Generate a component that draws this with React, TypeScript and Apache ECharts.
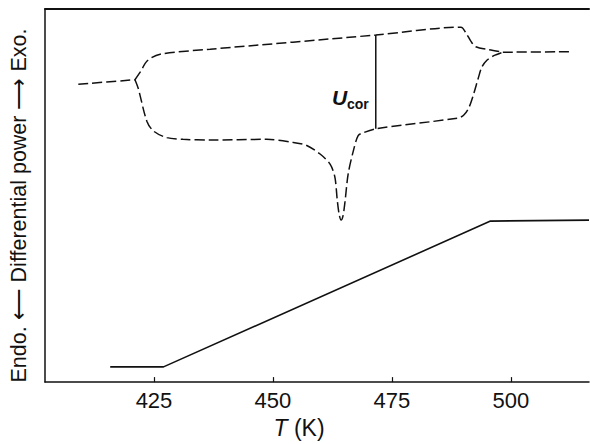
import React, { useEffect, useRef } from "react";
import * as echarts from "echarts";

// Temperature tick labels (K)
const TICK_VALUES = [425, 450, 475, 500];

// Dashed DSC trace (arbitrary power units), split at the two cusps
const LEFT_TAIL_T = [409.1, 421.0];
const LEFT_TAIL_P = [303.3, 308];

const UPPER_T = [421.0, 422.1, 423.6, 426.3, 436.8, 471.6, 489.5, 490.5, 491.6, 492.6, 495.4, 498.3];
const UPPER_P = [308, 315.7, 327.3, 334, 339, 353.5, 361.5, 356, 347, 341.5, 338.5, 336];

const LOWER_T = [
  421.0, 421.7, 423.5, 424.9, 427.7, 431.1, 436.8, 448.7, 454.3, 457.1, 459.9, 462.0, 463.0, 463.5,
  463.9, 464.3, 464.7, 465.1, 465.8, 466.9, 467.9, 469.0, 471.6, 488.9, 490.1, 491.2, 492.2, 493.1,
  493.9, 495.0, 496.4, 498.3,
];
const LOWER_P = [
  308, 299, 265.7, 255.7, 249, 247.3, 246.5, 247.3, 244, 241, 232.3, 222, 209, 185.7, 171, 165, 169,
  182.3, 212, 235.7, 251, 254, 258, 269, 272, 280, 294, 309, 321, 328, 332.5, 336,
];

const RIGHT_TAIL_T = [498.3, 512.4];
const RIGHT_TAIL_P = [336, 336.5];

// Solid temperature-program trace
const RAMP_T = [415.8, 427.0, 495.7, 516.4];
const RAMP_P = [15.5, 15.5, 164, 165];

// U_cor marker
const UCOR_T = [471.6, 471.6];
const UCOR_P = [258, 353.5];

const zip = (a: number[], b: number[]) => a.map((v, i) => [v, b[i]]);

const FONT = "'Liberation Sans', Arial, Helvetica, sans-serif";
const INK = "#111";

export default function App() {
  const ref = useRef<HTMLDivElement>(null);

  useEffect(() => {
    document.body.style.margin = "0";
    const chart = echarts.init(ref.current!, undefined, { renderer: "svg" });

    const dashed = (t: number[], p: number[]) => ({
      type: "line",
      data: zip(t, p),
      symbol: "none",
      smooth: 0.3,
      lineStyle: { color: INK, width: 1.5, type: [10, 4] },
      silent: true,
    });

    chart.setOption({
      animation: false,
      backgroundColor: "#fff",
      textStyle: { fontFamily: FONT },
      grid: { left: 45, right: 1, top: 9, bottom: 55 },
      xAxis: [
        {
          type: "value",
          min: 402.1,
          max: 516.4,
          position: "bottom",
          name: "{i|T} (K)",
          nameLocation: "middle",
          nameGap: 32,
          nameTextStyle: {
            fontSize: 23,
            color: INK,
            fontFamily: FONT,
            padding: [0, 36, 0, 0],
            rich: { i: { fontSize: 23, fontStyle: "italic", color: INK, fontFamily: FONT } },
          },
          axisLine: { show: true, lineStyle: { color: INK, width: 1.5 } },
          axisTick: {
            show: true,
            inside: true,
            length: 5,
            customValues: TICK_VALUES,
            lineStyle: { color: INK, width: 1.2 },
          },
          axisLabel: {
            show: true,
            customValues: TICK_VALUES,
            fontSize: 22,
            color: INK,
            margin: 7,
            fontFamily: FONT,
          },
          splitLine: { show: false },
        },
        {
          type: "value",
          min: 402.1,
          max: 516.4,
          position: "top",
          axisLine: { show: true, lineStyle: { color: INK, width: 2 } },
          axisTick: { show: false },
          axisLabel: { show: false },
          splitLine: { show: false },
        },
      ],
      yAxis: {
        type: "value",
        min: 0,
        max: 380,
        name: "Endo. ⟵ Differential power ⟶ Exo.",
        nameLocation: "middle",
        nameRotate: 90,
        nameGap: 15,
        nameTextStyle: { fontSize: 21.5, color: INK, fontFamily: FONT, padding: [0, 20, 0, 0] },
        axisLine: { show: true, lineStyle: { color: INK, width: 1.5 } },
        axisTick: { show: false },
        axisLabel: { show: false },
        splitLine: { show: false },
      },
      graphic: [
        {
          type: "text",
          x: 332,
          y: 97,
          style: {
            text: "U",
            font: `italic bold 21px ${FONT}`,
            fill: INK,
            textAlign: "left",
            textVerticalAlign: "middle",
          },
        },
        {
          type: "text",
          x: 347,
          y: 104,
          style: {
            text: "cor",
            font: `bold 14px ${FONT}`,
            fill: INK,
            textAlign: "left",
            textVerticalAlign: "middle",
          },
        },
      ],
      series: [
        dashed(LEFT_TAIL_T, LEFT_TAIL_P),
        dashed(UPPER_T, UPPER_P),
        dashed(LOWER_T, LOWER_P),
        dashed(RIGHT_TAIL_T, RIGHT_TAIL_P),
        {
          type: "line",
          data: zip(RAMP_T, RAMP_P),
          symbol: "none",
          lineStyle: { color: INK, width: 1.6 },
          silent: true,
        },
        {
          type: "line",
          data: zip(UCOR_T, UCOR_P),
          symbol: "none",
          lineStyle: { color: INK, width: 1.5 },
          silent: true,
        },
      ],
    });

    return () => chart.dispose();
  }, []);

  return <div ref={ref} style={{ width: 590, height: 444 }} />;
}
